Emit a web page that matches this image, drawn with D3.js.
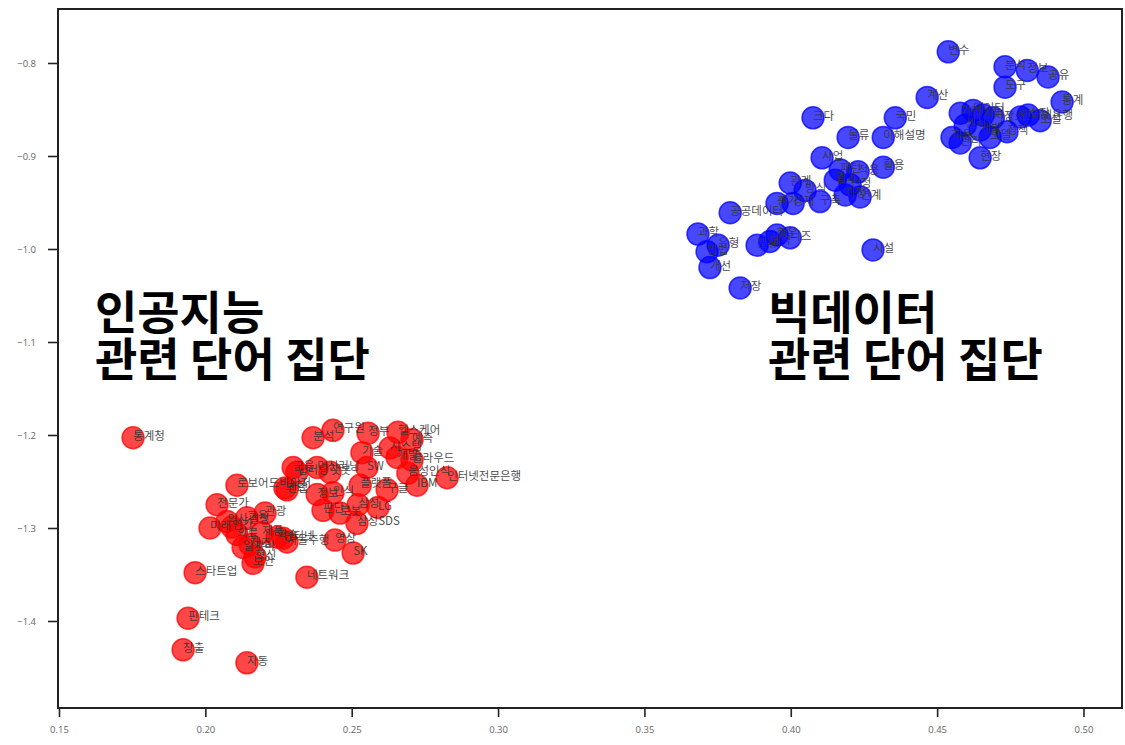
<!DOCTYPE html>
<html>
<head>
<meta charset="utf-8">
<script src="https://cdn.jsdelivr.net/npm/d3@7"></script>
<style>
  html, body { margin: 0; padding: 0; background: #fff; }
  svg { display: block; }
</style>
</head>
<body>
<svg id="chart" width="1125" height="745"></svg>
<script>
// Word embedding scatter: two word groups (AI vs. big data), coordinates per word.

// AI-related words (red)
const aiWords = ["통계청","로보어드바이저","보험","금융","전문가","미래","관광","교육","의료","제조",
  "혁신","학습","자율주행","스타트업","보안","네트워크","핀테크","창출","자동","분석",
  "연구원","정부","헬스케어","예측","기술","시스템","개발","클라우드","딥러닝","머신러닝",
  "챗봇","SW","음성인식","인터넷전문은행","플랫폼","구글","IBM","산업","정보","인식",
  "판단","로봇","삼성","LG","삼성SDS","영상","인터넷","SK","의사결정","인간",
  "일자리","제품"];
const aiX = [0.1753,0.2108,0.2272,0.2300,0.2040,0.2016,0.2204,0.2142,0.2108,0.2153,
  0.2170,0.2245,0.2279,0.1965,0.2163,0.2347,0.1941,0.1924,0.2142,0.2368,
  0.2436,0.2556,0.2658,0.2706,0.2535,0.2631,0.2655,0.2706,0.2313,0.2382,
  0.2426,0.2552,0.2692,0.2826,0.2529,0.2621,0.2723,0.2279,0.2382,0.2436,
  0.2402,0.2460,0.2522,0.2590,0.2518,0.2443,0.2265,0.2505,0.2074,0.2091,
  0.2129,0.2194];
const aiY = [-1.203,-1.254,-1.257,-1.235,-1.275,-1.300,-1.284,-1.289,-1.307,-1.318,
  -1.331,-1.310,-1.315,-1.348,-1.338,-1.353,-1.397,-1.431,-1.445,-1.203,
  -1.195,-1.198,-1.197,-1.205,-1.219,-1.214,-1.224,-1.227,-1.240,-1.235,
  -1.240,-1.235,-1.241,-1.246,-1.254,-1.259,-1.254,-1.259,-1.264,-1.262,
  -1.281,-1.284,-1.275,-1.278,-1.295,-1.313,-1.311,-1.327,-1.293,-1.299,
  -1.321,-1.305];

// Big-data-related words (blue)
const bdWords = ["변수","분석","정보","공유","도구","통계","계산","국민","크다","물류",
  "이해설명","기업","데이터","서버","저장소","인터넷은행","수집","하둡","관리","개발",
  "모델","정책","현장","활용","사업","적용","선정","관계","구축","연계",
  "증가","경제","방식","결과","과정","패턴","공공데이터","과학","유형","방법",
  "개선","분류","행운","니즈","예측","시설","저장","센서","소셜"];
const bdX = [0.4538,0.4732,0.4808,0.4879,0.4732,0.4927,0.4466,0.4357,0.4076,0.4196,
  0.4316,0.4579,0.4623,0.4657,0.4692,0.4784,0.4811,0.4551,0.4579,0.4647,
  0.4681,0.4739,0.4647,0.4316,0.4107,0.4230,0.4203,0.3998,0.4100,0.4237,
  0.3953,0.4008,0.4049,0.4152,0.4186,0.4169,0.3793,0.3683,0.3752,0.3714,
  0.3724,0.3885,0.3953,0.3998,0.3929,0.4281,0.3827,0.4596,0.4852];
const bdY = [-0.788,-0.804,-0.808,-0.815,-0.826,-0.842,-0.837,-0.859,-0.859,-0.880,
  -0.880,-0.854,-0.851,-0.856,-0.859,-0.858,-0.856,-0.880,-0.886,-0.872,
  -0.880,-0.874,-0.902,-0.912,-0.902,-0.917,-0.931,-0.929,-0.949,-0.944,
  -0.951,-0.951,-0.937,-0.926,-0.942,-0.915,-0.961,-0.984,-0.996,-1.003,
  -1.020,-0.996,-0.985,-0.988,-0.992,-1.001,-1.042,-0.867,-0.862];

const xTicks = [0.15, 0.20, 0.25, 0.30, 0.35, 0.40, 0.45, 0.50];
const yTicks = [-0.8, -0.9, -1.0, -1.1, -1.2, -1.3, -1.4];

// Group captions, anchored in data coordinates
const captionAI = ["인공지능", "관련 단어 집단"];
const captionBD = ["빅데이터", "관련 단어 집단"];
const captionAIAt = [0.1623, -1.0860];
const captionBDAt = [0.3922, -1.0860];

const svg = d3.select("#chart");
const plot = { left: 58, right: 1122, top: 9, bottom: 708 };

const x = d3.scaleLinear().domain([0.14966, 0.51316]).range([plot.left, plot.right]);
const y = d3.scaleLinear().domain([-0.74194, -1.49355]).range([plot.top, plot.bottom]);

const labelFont = "'Noto Sans CJK KR', 'Noto Sans', sans-serif";
const tickFont = "'Open Sans', 'DejaVu Sans', sans-serif";

// Axes
const xAxis = d3.axisBottom(x).tickValues(xTicks).tickFormat(d3.format(".2f")).tickSize(9).tickPadding(9);
const yAxis = d3.axisLeft(y).tickValues(yTicks).tickFormat(d => "−" + Math.abs(d).toFixed(1)).tickSize(10).tickPadding(12);

const gx = svg.append("g").attr("transform", `translate(0,${plot.bottom})`).call(xAxis);
const gy = svg.append("g").attr("transform", `translate(${plot.left},0)`).call(yAxis);
[gx, gy].forEach(g => {
  g.select(".domain").remove();
  g.selectAll(".tick line").attr("stroke", "#222").attr("stroke-width", 1.6);
  g.selectAll(".tick text").attr("fill", "#666").attr("font-size", 9.5).attr("font-family", tickFont);
});

// Frame
svg.append("rect")
  .attr("x", plot.left).attr("y", plot.top)
  .attr("width", plot.right - plot.left).attr("height", plot.bottom - plot.top)
  .attr("fill", "none").attr("stroke", "#222").attr("stroke-width", 2);

// Points
function drawGroup(words, xs, ys, color) {
  const rows = words.map((w, i) => ({ w, x: xs[i], y: ys[i] }));
  svg.append("g").selectAll("circle").data(rows).join("circle")
    .attr("cx", d => x(d.x)).attr("cy", d => y(d.y)).attr("r", 11)
    .attr("fill", color).attr("fill-opacity", 0.72)
    .attr("stroke", color).attr("stroke-opacity", 0.72).attr("stroke-width", 1.5);
  return rows;
}
const aiRows = drawGroup(aiWords, aiX, aiY, "#ff0000");
const bdRows = drawGroup(bdWords, bdX, bdY, "#0000ff");

// Word labels
svg.append("g").selectAll("text").data(aiRows.concat(bdRows)).join("text")
  .attr("x", d => x(d.x)).attr("y", d => y(d.y) + 2)
  .attr("font-family", labelFont).attr("font-size", 11.5)
  .attr("fill", "#333").attr("fill-opacity", 0.9)
  .text(d => d.w);

// Group captions
function caption(lines, at) {
  const t = svg.append("text")
    .attr("x", x(at[0])).attr("y", y(at[1]))
    .attr("font-family", labelFont).attr("font-weight", 700).attr("font-size", 46)
    .attr("fill", "#000");
  lines.forEach((l, i) => t.append("tspan").attr("x", x(at[0])).attr("dy", i === 0 ? 0 : 47).text(l));
}
caption(captionAI, captionAIAt);
caption(captionBD, captionBDAt);
</script>
</body>
</html>
